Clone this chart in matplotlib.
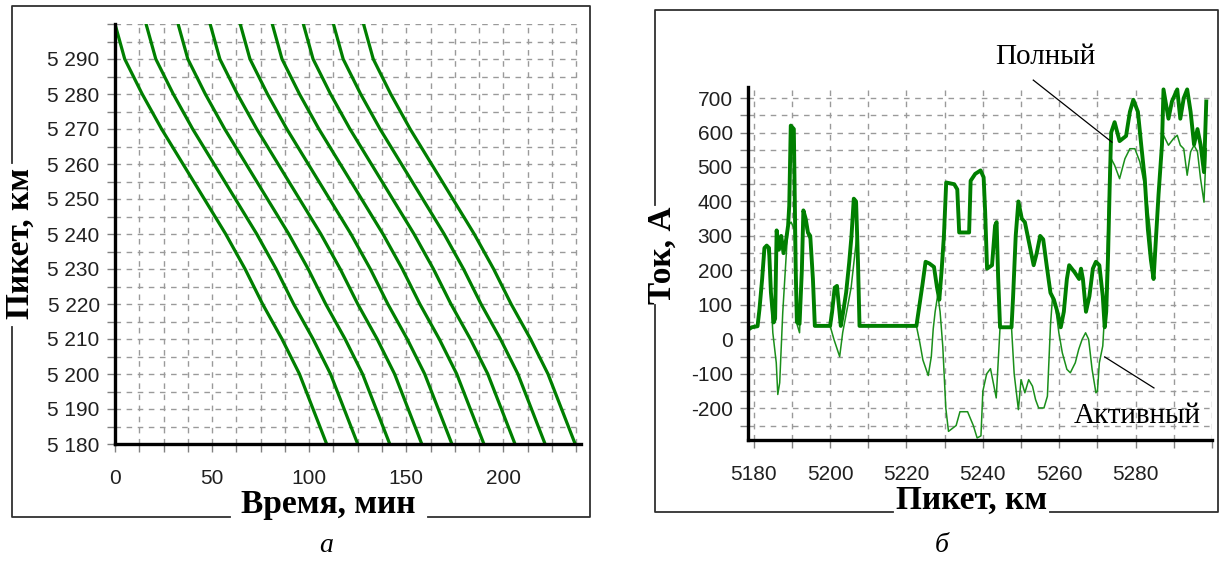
"""
График движения поездов (а) и ток фидера по пикетам (б)
"""

import matplotlib.pyplot as plt
from matplotlib.lines import Line2D
from matplotlib.ticker import MultipleLocator, FuncFormatter

# --- а: график движения, профиль времени хода одного поезда ---
piket_km = [5300, 5290, 5280, 5270, 5260, 5250, 5240, 5230, 5220, 5210, 5200, 5190, 5180]
vremya_hoda = [0, 5, 14, 24, 35, 46, 57, 67, 76, 86, 95, 102, 109]
# время отправления поездов, мин
otpravlenie = [0, 16, 32.5, 49, 64.5, 81, 97, 112.5, 128]

# --- б: полный и активный ток ---
polny_x = [5178.8, 5179.5, 5181.0, 5181.5, 5182.2, 5182.8, 5183.4, 5184.0, 5184.5, 5185.2,
           5185.6, 5186.0, 5186.6, 5187.2, 5187.8, 5188.5, 5189.0, 5189.3, 5189.7, 5190.5,
           5191.0, 5191.3, 5192.0, 5192.6, 5193.0, 5193.6, 5194.2, 5194.8, 5195.5, 5196.0,
           5200.0, 5200.5, 5201.2, 5201.8, 5202.4, 5202.8, 5203.4, 5204.2, 5205.0, 5205.6,
           5206.2, 5206.8, 5207.3, 5207.7, 5222.6, 5223.4, 5224.2,
           5225.0, 5226.0, 5227.2, 5228.0, 5228.6, 5229.2, 5229.8, 5230.4, 5232.5, 5233.3,
           5233.8, 5236.4, 5236.8, 5238.0, 5239.4, 5240.2, 5240.6, 5241.1, 5242.4, 5243.2,
           5243.6, 5244.0, 5244.5, 5247.5, 5247.9, 5248.6, 5249.3, 5250.2, 5251.0, 5252.0,
           5253.3, 5254.1, 5255.0, 5255.8, 5256.7, 5257.7, 5258.6, 5259.5, 5260.4, 5261.2,
           5262.0, 5262.6, 5264.0, 5265.2, 5265.7, 5266.2, 5267.0, 5267.9, 5268.8, 5269.6,
           5270.5, 5271.4, 5271.9, 5272.3, 5272.8, 5273.2, 5273.6, 5274.5, 5275.8, 5277.5,
           5278.5, 5279.4, 5280.6, 5281.5, 5282.4, 5283.2, 5284.0, 5284.7, 5285.2, 5286.0,
           5286.9, 5287.3, 5288.6, 5289.5, 5290.9, 5291.7, 5292.6, 5293.5, 5294.4, 5295.3,
           5296.2, 5297.0, 5297.9, 5298.5]
polny_y = [30, 35, 38, 87, 175, 265, 272, 265, 136, 49,
           60, 316, 260, 300, 250, 290, 330, 388, 620, 610,
           200, 50, 45, 200, 374, 350, 310, 300, 175, 39,
           39, 78, 150, 155, 87, 39, 78, 136, 223, 300,
           408, 400, 223, 39, 39, 100, 160,
           225, 220, 210, 150, 115, 200, 300, 455, 450, 435,
           310, 310, 460, 480, 490, 470, 370, 205, 215, 330,
           340, 180, 35, 35, 120, 300, 400, 350, 340, 285,
           215, 250, 300, 290, 215, 135, 115, 80, 35, 80,
           175, 215, 195, 175, 205, 175, 80, 125, 205, 225,
           215, 125, 35, 80, 250, 440, 600, 630, 575, 590,
           660, 695, 660, 560, 465, 320, 230, 175, 270, 420,
           565, 725, 640, 690, 725, 640, 700, 725, 660, 565,
           610, 565, 485, 690]

aktivny_x = [5178.8, 5179.5, 5181.0, 5181.5, 5182.2, 5182.8, 5183.4, 5184.0, 5185.0, 5185.9,
             5186.3, 5186.8, 5187.6, 5188.5, 5189.0, 5189.8, 5190.6, 5191.2, 5192.0, 5192.6,
             5193.0, 5194.2, 5194.8, 5195.5, 5196.0, 5200.0, 5201.0, 5202.5, 5203.3, 5204.5,
             5205.5, 5207.0, 5207.7,
             5222.6, 5223.5, 5224.3, 5225.7, 5226.5, 5227.0, 5227.5, 5228.2, 5228.8,
             5229.5, 5230.3, 5231.0, 5233.0, 5234.0, 5236.0, 5237.5, 5238.5, 5239.5, 5240.0,
             5241.0, 5242.0, 5242.8, 5243.5, 5244.5, 5247.5, 5248.2, 5249.3, 5250.0, 5251.0,
             5252.0, 5253.0, 5253.8, 5254.6, 5256.0, 5256.9, 5257.7, 5258.2, 5259.0, 5259.9,
             5260.8, 5262.0, 5262.9, 5264.2, 5265.1, 5266.0, 5266.9, 5267.7, 5268.6, 5269.6,
             5270.0, 5270.5, 5271.4, 5272.3, 5273.2, 5273.6, 5274.5, 5275.8, 5277.2, 5278.5,
             5279.8, 5281.1, 5282.0, 5282.9, 5283.8, 5284.2, 5284.7, 5285.2, 5286.0, 5286.9,
             5287.3, 5288.6, 5289.9, 5290.9, 5291.7, 5292.6, 5293.5, 5294.4, 5295.3, 5296.2,
             5297.0, 5297.9, 5298.5]
aktivny_y = [30, 35, 38, 87, 175, 265, 272, 240, 19, -68,
             -160, -126, 78, 243, 330, 340, 320, 49, 19, 200,
             360, 300, 290, 175, 39, 39, 0, -50, 20, 90,
             150, 300, 39,
             39, -10, -60, -105, -50, 30, 80, 130, 80,
             -20, -200, -267, -250, -210, -210, -250, -286, -280, -150,
             -100, -85, -130, -170, 35, 35, -100, -204, -117, -155,
             -117, -136, -175, -199, -199, -165, 40, 117, 97, 19,
             -39, -87, -97, -68, -29, 0, 19, 0, -87, -155,
             -150, -68, -19, 155, 505, 524, 505, 466, 524, 553,
             553, 515, 466, 408, 320, 252, 184, 300, 418, 563,
             592, 563, 582, 592, 563, 553, 476, 544, 563, 544,
             466, 398, 553]

W, H = 1223, 567


def px(x, y):
    """Пиксели картинки -> доли фигуры"""
    return x / W, 1 - y / H


def ramka(fig, tochki):
    """Ломаная рамка в пикселях"""
    xs = [px(x, y)[0] for x, y in tochki]
    ys = [px(x, y)[1] for x, y in tochki]
    fig.add_artist(Line2D(xs, ys, transform=fig.transFigure, color='#303030', lw=1.3))


def oformit_os(ax):
    ax.spines['top'].set_visible(False)
    ax.spines['right'].set_visible(False)
    for s in ('left', 'bottom'):
        ax.spines[s].set_linewidth(2.4)
        ax.spines[s].set_color('black')
        ax.spines[s].set_zorder(5)
    ax.grid(True, which='both', color='#9a9a9a', linestyle=(0, (4, 4)), linewidth=1.0)
    ax.set_axisbelow(True)
    ax.tick_params(which='both', direction='out', length=6, width=1, color='#808080',
                   labelsize=15, pad=5)
    for lbl in ax.get_xticklabels() + ax.get_yticklabels():
        lbl.set_fontfamily('Liberation Sans')
        lbl.set_color('#202020')


fig = plt.figure(figsize=(W / 100, H / 100), dpi=100)
serif = 'Liberation Serif'

# ===== а =====
ax1 = fig.add_axes([115 / W, 1 - 444 / H, (581 - 115) / W, (444 - 24) / H])
for t0 in otpravlenie:
    ax1.plot([t0 + t for t in vremya_hoda], piket_km, color='#007f00', lw=2.3, zorder=3)
ax1.set_xlim(0, 240)
ax1.set_ylim(5180, 5300)
ax1.xaxis.set_major_locator(MultipleLocator(50))
ax1.xaxis.set_minor_locator(MultipleLocator(12.5))
ax1.yaxis.set_major_locator(MultipleLocator(10))
ax1.yaxis.set_minor_locator(MultipleLocator(5))
ax1.yaxis.set_major_formatter(FuncFormatter(lambda v, p: f'{int(v):,}'.replace(',', ' ') if v < 5295 else ''))
oformit_os(ax1)
ax1.tick_params(axis='x', pad=12)

# ===== б =====
ax2 = fig.add_axes([748 / W, 1 - 440 / H, (1212 - 748) / W, (440 - 87) / H])
ax2.plot(aktivny_x, aktivny_y, color='#1a8f1a', lw=1.1, zorder=3)
ax2.plot(polny_x, polny_y, color='#007f00', lw=2.8, zorder=4)
ax2.set_xlim(5178.5, 5300)
ax2.set_ylim(-292, 732)
ax2.xaxis.set_major_locator(MultipleLocator(20))
ax2.xaxis.set_minor_locator(MultipleLocator(10))
ax2.yaxis.set_major_locator(MultipleLocator(100))
ax2.yaxis.set_minor_locator(MultipleLocator(50))
ax2.xaxis.set_major_formatter(FuncFormatter(lambda v, p: f'{int(v)}' if v < 5290 else ''))
ax2.yaxis.set_major_formatter(FuncFormatter(lambda v, p: f'{int(v)}'))
oformit_os(ax2)
ax2.tick_params(axis='x', pad=12)

# выноски (координаты данных)
ax2.plot([5253.2, 5273.8], [752, 572], color='black', lw=0.9, zorder=6, clip_on=False)
ax2.plot([5271.9, 5284.8], [-51, -141], color='black', lw=0.9, zorder=6, clip_on=False)
fig.text(*px(1045, 57), 'Полный', fontsize=21, family=serif, ha='center', va='center')
fig.text(*px(1137, 416), 'Активный', fontsize=21, family=serif, ha='center', va='center',
         zorder=6)

# рамки
ramka(fig, [(12, 163), (12, 6), (590, 6), (590, 517), (428, 517)])
ramka(fig, [(230, 517), (12, 517), (12, 327)])
ramka(fig, [(655, 205), (655, 10), (1218, 10), (1218, 512), (1050, 512)])
ramka(fig, [(893, 512), (655, 512), (655, 305)])

fig.text(*px(328, 504), 'Время, мин', fontsize=24, fontweight='bold', family=serif,
         ha='center', va='center')
fig.text(*px(20, 243), 'Пикет, км', fontsize=24, fontweight='bold', family=serif,
         ha='center', va='center', rotation=90)
fig.text(*px(972, 500), 'Пикет, км', fontsize=24, fontweight='bold', family=serif,
         ha='center', va='center')
fig.text(*px(662, 255), 'Ток, А', fontsize=24, fontweight='bold', family=serif,
         ha='center', va='center', rotation=90)
fig.text(*px(326, 546), 'а', fontsize=20, style='italic', family=serif, ha='center', va='center')
fig.text(*px(942, 546), 'б', fontsize=20, style='italic', family=serif, ha='center', va='center')

plt.savefig('out.png', dpi=100)
